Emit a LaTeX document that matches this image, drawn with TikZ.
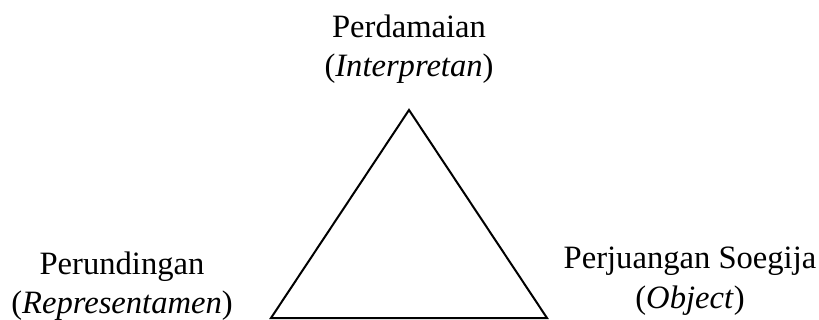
\documentclass[tikz,border=0pt]{standalone}
\usepackage{fontspec}
\setmainfont{Liberation Serif}
\usepackage{tikz}
\usetikzlibrary{positioning,calc}
\tikzset{
  signlabel/.style={align=center,inner sep=0pt,anchor=base,font=\fontsize{16.3pt}{19.8pt}\selectfont},
  signedge/.style={draw=black,line width=1pt,line join=miter},
}

\begin{document}
\begin{tikzpicture}[x=0.5pt,y=-0.5pt]
  \useasboundingbox (0,0) rectangle (819,320);
  \coordinate (apex) at (409,110);
  \coordinate (left) at (271,318);
  \coordinate (right) at (547,318);
  % anchor=base sits on the last line
  \node[signlabel] (interp) at (409,77) {Perdamaian\\(\textit{Interpretan})};
  \node[signlabel] (repr) at (122,314) {Perundingan\\(\textit{Representamen})};
  \node[signlabel] (obj) at (690,308) {Perjuangan Soegija\\(\textit{Object})};
  \draw[signedge] (apex) -- (left) -- (right) -- cycle;
\end{tikzpicture}
\end{document}
